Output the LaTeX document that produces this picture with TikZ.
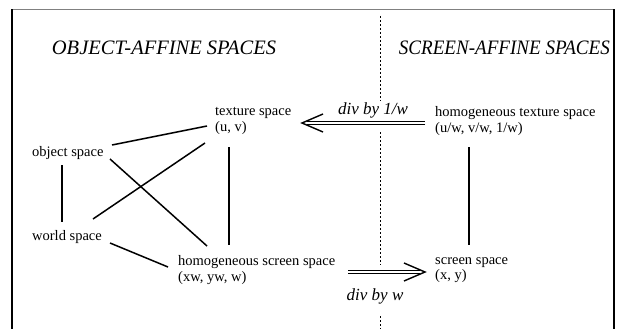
\documentclass[tikz,border=0pt]{standalone}
\usepackage{fontspec}
\usepackage{graphicx}
\setmainfont{Liberation Serif}
\begin{document}
\begin{tikzpicture}[x=1pt,y=-1pt,
  lbl/.style={inner sep=0pt, anchor=west, align=left, font=\fontsize{14.5}{15.5}\selectfont},
  hdr/.style={inner sep=0pt, font=\fontsize{20.5}{24}\selectfont\itshape},
  divlbl/.style={inner sep=0pt, font=\fontsize{17}{20}\selectfont\itshape},
  link/.style={line width=1.5pt},
  dbl/.style={double, double distance=2.6pt, line width=1pt},
  barb/.style={line width=1.4pt},
  divider/.style={line width=1.2pt, dash pattern=on 2.4pt off 1.6pt}]
\useasboundingbox (0,0) rectangle (618,329);

% frame (open at the bottom)
\draw[gray, line width=1.4pt] (12,9.5) -- (614,9.5);
\draw[line width=1.4pt] (12,9.5) -- (12,329);
\draw[line width=1.4pt] (614,9.5) -- (614,329);

% dotted divider between the two halves
\coordinate (d1) at (380.5,16);  \coordinate (d2) at (380.5,101);
\coordinate (d3) at (380.5,132); \coordinate (d4) at (380.5,265);
\coordinate (d5) at (380.5,316); \coordinate (d6) at (380.5,329);
\draw[divider] (d1) -- (d2);
\draw[divider] (d3) -- (d4);
\draw[divider] (d5) -- (d6);

% headings
\node[hdr] (hl) at (164,48) {OBJECT-AFFINE SPACES};
\node[hdr, anchor=east] (hr) at (610,48) {\scalebox{0.93}[1]{SCREEN-AFFINE SPACES}};

% spaces
\node[lbl] (tex)   at (215,121) {texture space\\(u, v)};
\node[lbl] (hts)   at (435,121) {homogeneous texture space\\(u/w, v/w, 1/w)};
\node[lbl] (obj)   at (32,153)  {object space};
\node[lbl] (world) at (32,237)  {world space};
\node[lbl] (hss)   at (178,270) {homogeneous screen space\\(xw, yw, w)};
\node[lbl] (ss)    at (435,270) {screen space\\(x, y)};

% affine relations
\draw[link] ([shift={(80,-8)}]obj.west)   -- ([shift={(-8,5)}]tex.west);
\draw[link] ([shift={(78,6)}]obj.west)    -- ([shift={(29,-24)}]hss.west);
\draw[link] ([shift={(61,-18)}]world.west) -- ([shift={(-10,22)}]tex.west);
\draw[link] ([shift={(30,12)}]obj.west)   -- ([shift={(30,-15)}]world.west);
\draw[link] ([shift={(14,26)}]tex.west)   -- ([shift={(51,-25)}]hss.west);
\draw[link] ([shift={(78,6)}]world.west)  -- ([shift={(-10,-3)}]hss.west);
\draw[link] ([shift={(34,26)}]hts.west)   -- ([shift={(34,-25)}]ss.west);

% division arrows
\draw[dbl] ([shift={(-10,2)}]hts.west) -- ([shift={(92,2)}]tex.west);
\draw[barb] ([shift={(108,-7)}]tex.west) -- ([shift={(87,2)}]tex.west) -- ([shift={(108,11)}]tex.west);
\node[divlbl] (l1) at (373,110) {div by 1/w};

\draw[dbl] ([shift={(170,2)}]hss.west) -- ([shift={(-15,2)}]ss.west);
\draw[barb] ([shift={(-31,-7)}]ss.west) -- ([shift={(-10,2)}]ss.west) -- ([shift={(-31,11)}]ss.west);
\node[divlbl] (l2) at (375,296) {div by w};
\end{tikzpicture}
\end{document}
